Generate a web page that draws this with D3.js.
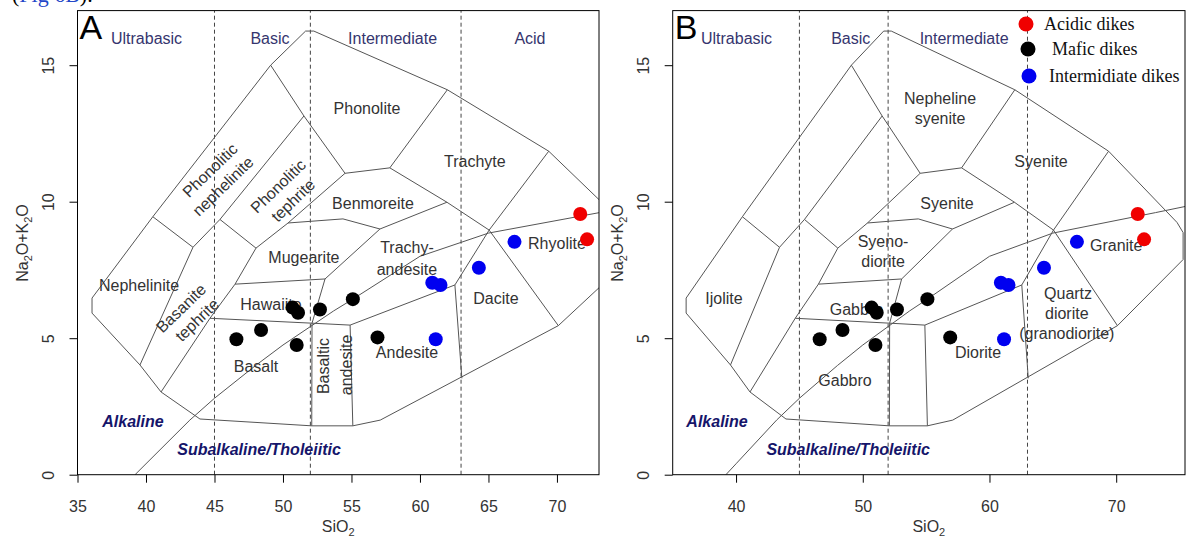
<!DOCTYPE html>
<html>
<head>
<meta charset="utf-8">
<script src="https://cdn.jsdelivr.net/npm/d3@7"></script>
<style>
  body { margin: 0; background: #fff; }
  svg { display: block; font-family: Arial, "Liberation Sans", sans-serif; }
</style>
</head>
<body>
<svg id="chart" width="1186" height="537"></svg>
<script>
// ---- samples (SiO2, Na2O+K2O) ----
var maficDikes = [[46.6, 4.96], [48.4, 5.3], [50.7, 6.12], [51.1, 5.93], [51.0, 4.75], [52.7, 6.05], [55.1, 6.43], [56.9, 5.03]];
var intermediateDikes = [[60.9, 7.03], [61.5, 6.95], [61.15, 4.96], [64.3, 7.58], [66.9, 8.53]];
var acidicDikes = [[71.7, 9.55], [72.2, 8.62]];

// ---- TAS field geometry ----
var outline = [[36.06, 6.47], [40.5, 9.45], [49.1, 15.0], [51.65, 16.25], [52.25, 16.25], [62.0, 14.1],
  [69.4, 11.85], [74.8, 9.24], [75.28, 8.87], [75.28, 7.88], [70.1, 5.46], [57.1, 2.0], [55.1, 1.79],
  [52.1, 1.79], [43.94, 2.04], [41.1, 3.03], [39.56, 4.02], [36.06, 5.92], [36.06, 6.47]];

var boundaries = [
  [[40.5, 9.45], [43.43, 8.33]],
  [[51.53, 13.14], [45.4, 9.35], [43.43, 8.33]],
  [[43.43, 8.33], [39.56, 4.02]],
  [[49.1, 15.0], [51.53, 13.14], [54.53, 11.04]],
  [[45.4, 9.35], [48.03, 8.3]],
  [[54.53, 11.04], [50.37, 9.22], [48.03, 8.3], [46.5, 6.98], [44.67, 5.73], [41.1, 3.03]],
  [[50.37, 9.22], [54.38, 9.37], [57.08, 9.0]],
  [[54.53, 11.04], [57.8, 11.24]],
  [[62.0, 14.1], [57.8, 11.24]],
  [[57.8, 11.24], [61.97, 9.98], [65.05, 8.96]],
  [[57.08, 9.0], [61.97, 9.98]],
  [[57.08, 9.0], [53.07, 7.17]],
  [[46.5, 6.98], [53.07, 7.17]],
  [[53.07, 7.17], [52.12, 5.55]],
  [[44.67, 5.73], [52.12, 5.55], [54.9, 5.48]],
  [[52.12, 5.55], [52.1, 1.79]],
  [[54.9, 5.48], [55.1, 1.79]],
  [[54.9, 5.48], [62.55, 6.95]],
  [[69.4, 11.85], [65.05, 8.96], [62.55, 6.95]],
  [[62.55, 6.95], [63.06, 3.53]],
  [[65.05, 8.96], [70.1, 5.46]]
];

// Irvine & Baragar alkaline / subalkaline divide
var alkalineDivide = [[39.2, 0], [40, 0.4], [43.2, 2], [45, 2.8], [48, 4], [50, 4.75], [53.7, 6],
  [55, 6.4], [60, 8], [65, 8.85], [73.1, 9.6], [75.5, 9.83]];

var silicaClasses = [45, 52, 63];
var classNames = ["Ultrabasic", "Basic", "Intermediate", "Acid"];
var classCentres = [40.04, 49.05, 58.0, 68.03];

var yTicks = [0, 5, 10, 15];
var xTicksA = [35, 40, 45, 50, 55, 60, 65, 70];
var xTicksB = [40, 50, 60, 70];

// volcanic names (A) and plutonic names (B), one entry per text line
var labelsA = [
  {t: "Phonolitic", x: 44.67, y: 11.15, r: -44},
  {t: "nephelinite", x: 45.62, y: 10.57, r: -44},
  {t: "Phonolitic", x: 49.64, y: 10.57, r: -44},
  {t: "tephrite", x: 50.73, y: 10.05, r: -44},
  {t: "Phonolite", x: 56.13, y: 13.43},
  {t: "Trachyte", x: 64.01, y: 11.48},
  {t: "Benmoreite", x: 56.57, y: 9.95},
  {t: "Mugearite", x: 51.53, y: 7.97},
  {t: "Trachy-", x: 59.05, y: 8.34},
  {t: "andesite", x: 59.05, y: 7.53},
  {t: "Rhyolite", x: 70.0, y: 8.49},
  {t: "Dacite", x: 65.55, y: 6.47},
  {t: "Andesite", x: 59.05, y: 4.49},
  {t: "Basaltic", x: 52.92, y: 3.98, r: -90},
  {t: "andesite", x: 54.6, y: 4.02, r: -90},
  {t: "Basalt", x: 48.03, y: 3.95},
  {t: "Hawaiite", x: 49.12, y: 6.25},
  {t: "Basanite", x: 42.55, y: 6.1, r: -44},
  {t: "tephrite", x: 43.72, y: 5.67, r: -44},
  {t: "Nephelinite", x: 39.49, y: 6.95}
];
var labelsB = [
  {t: "Nepheline", x: 56.1, y: 13.8},
  {t: "syenite", x: 56.1, y: 13.06},
  {t: "Syenite", x: 64.07, y: 11.48},
  {t: "Syenite", x: 56.65, y: 9.95},
  {t: "Syeno-", x: 51.6, y: 8.56},
  {t: "diorite", x: 51.6, y: 7.8},
  {t: "Granite", x: 70.0, y: 8.41},
  {t: "Quartz", x: 66.2, y: 6.64},
  {t: "diorite", x: 66.1, y: 5.9},
  {t: "(granodiorite)", x: 66.1, y: 5.16},
  {t: "Diorite", x: 59.1, y: 4.49},
  {t: "Gabbro", x: 48.6, y: 3.47},
  {t: "Gabbro", x: 49.5, y: 6.06},
  {t: "Ijolite", x: 39.05, y: 6.47}
];

var legendNames = ["Acidic dikes", "Mafic dikes", "Intermidiate dikes"];
var legendColors = ["#f00000", "#000", "#0000f0"];

var svg = d3.select("#chart");

// cut-off caption line from the page above the figure
var cap = svg.append("text").attr("x", 12).attr("y", 2)
  .style("font-family", "'Liberation Serif', serif").style("font-size", "22px");
cap.append("tspan").text("(");
cap.append("tspan").attr("fill", "#2346c8").text("Fig 6B");
cap.append("tspan").text(").");

function chemLabel(sel, parts) {
  parts.forEach(function(p) {
    if (p.sub) sel.append("tspan").attr("dy", 4).style("font-size", "11px").text(p.sub);
    else sel.append("tspan").attr("dy", p.up ? -4 : 0).text(p.t);
  });
}

function drawPanel(o) {
  var x = d3.scaleLinear().domain(o.xDomain).range([o.left, o.right]);
  var y = d3.scaleLinear().domain([0, 17]).range([474.7, 10.6]);
  var line = d3.line().x(function(d) { return x(d[0]); }).y(function(d) { return y(d[1]); });

  var g = svg.append("g");
  g.append("clipPath").attr("id", o.id + "-clip")
    .append("rect").attr("x", o.left).attr("y", y(17)).attr("width", o.right - o.left).attr("height", y(0) - y(17));
  var plot = g.append("g").attr("clip-path", "url(#" + o.id + "-clip)");

  plot.selectAll("line.class").data(silicaClasses).enter().append("line")
    .attr("x1", function(d) { return x(d); }).attr("x2", function(d) { return x(d); })
    .attr("y1", y(0)).attr("y2", y(17))
    .attr("stroke", "#444").attr("stroke-width", 1).attr("stroke-dasharray", "4,3");

  plot.append("path").datum(outline).attr("d", line)
    .attr("fill", "none").attr("stroke", "#555").attr("stroke-width", 1);
  plot.selectAll("path.field").data(boundaries).enter().append("path")
    .attr("class", "field").attr("d", line)
    .attr("fill", "none").attr("stroke", "#555").attr("stroke-width", 1);
  plot.append("path").datum(alkalineDivide).attr("d", line)
    .attr("fill", "none").attr("stroke", "#555").attr("stroke-width", 1);

  // silica classes across the top
  plot.selectAll("text.cls").data(o.classes).enter().append("text")
    .attr("x", function(d, i) { return x(classCentres[i]); }).attr("y", y(16.0))
    .attr("dy", "0.35em").attr("text-anchor", "middle")
    .attr("fill", "#35356e").style("font-size", "16px").text(function(d) { return d; });

  plot.selectAll("text.field").data(o.labels).enter().append("text")
    .attr("text-anchor", "middle").attr("dy", "0.35em")
    .attr("transform", function(d) {
      return "translate(" + x(d.x) + "," + y(d.y) + ")" + (d.r ? " rotate(" + d.r + ")" : "");
    })
    .attr("fill", "#333").style("font-size", "16px").text(function(d) { return d.t; });

  plot.append("text").attr("x", x(o.alkPos[0])).attr("y", y(o.alkPos[1])).attr("dy", "0.35em")
    .attr("text-anchor", "middle").attr("fill", "#15156a")
    .style("font-size", "16px").style("font-weight", "bold").style("font-style", "italic").text("Alkaline");
  plot.append("text").attr("x", x(o.subPos[0])).attr("y", y(o.subPos[1])).attr("dy", "0.35em")
    .attr("text-anchor", "middle").attr("fill", "#15156a")
    .style("font-size", "16px").style("font-weight", "bold").style("font-style", "italic")
    .text("Subalkaline/Tholeiitic");

  [[maficDikes, "#000"], [intermediateDikes, "#0000f0"], [acidicDikes, "#f00000"]].forEach(function(s) {
    plot.selectAll(null).data(s[0]).enter().append("circle")
      .attr("cx", function(d) { return x(d[0]); }).attr("cy", function(d) { return y(d[1]); })
      .attr("r", 7).attr("fill", s[1]);
  });

  // axes, R style
  var xAxis = g.append("g").attr("transform", "translate(0," + y(0) + ")")
    .call(d3.axisBottom(x).tickValues(o.xTicks).tickSize(8).tickFormat(d3.format("d")));
  xAxis.select(".domain").remove();
  xAxis.selectAll("text").attr("y", 37).attr("dy", 0).attr("fill", "#333").style("font-size", "16px");

  var yAxis = g.append("g").attr("transform", "translate(" + o.left + ",0)")
    .call(d3.axisLeft(y).tickValues(yTicks).tickSize(8));
  yAxis.select(".domain").remove();
  yAxis.selectAll("text").attr("transform", "rotate(-90)").attr("x", 0).attr("y", -24).attr("dy", 0)
    .attr("text-anchor", "middle").attr("fill", "#333").style("font-size", "16px");

  g.append("rect").attr("x", o.left).attr("y", y(17)).attr("width", o.right - o.left).attr("height", y(0) - y(17))
    .attr("fill", "none").attr("stroke", "#000").attr("stroke-width", 1);

  var xt = g.append("text").attr("x", (o.left + o.right) / 2).attr("y", 532)
    .attr("text-anchor", "middle").attr("fill", "#333").style("font-size", "16px");
  chemLabel(xt, [{t: "SiO"}, {sub: "2"}]);
  var yt = g.append("text").attr("transform", "translate(" + (o.left - 50) + "," + 243 + ") rotate(-90)")
    .attr("text-anchor", "middle").attr("fill", "#333").style("font-size", "16px");
  chemLabel(yt, [{t: "Na"}, {sub: "2"}, {t: "O+K", up: true}, {sub: "2"}, {t: "O", up: true}]);

  g.append("text").attr("x", o.left + 2).attr("y", 39).attr("fill", "#000")
    .style("font-size", "34px").text(o.letter);
  return g;
}

drawPanel({id: "A", letter: "A", xDomain: [35, 73.07], left: 77.5, right: 599, xTicks: xTicksA,
  classes: classNames, labels: labelsA, alkPos: [39.05, 1.97], subPos: [48.25, 0.94]});
var gB = drawPanel({id: "B", letter: "B", xDomain: [35, 75.43], left: 672.7, right: 1185, xTicks: xTicksB,
  classes: classNames.slice(0, 3), labels: labelsB, alkPos: [38.5, 1.97], subPos: [48.85, 0.94]});

// legend (panel B)
var lg = gB.append("g");
var legendDotX = [1026, 1028, 1029], legendTextX = [1044, 1052, 1049], legendY = [24, 49, 76];
legendNames.forEach(function(name, i) {
  lg.append("circle").attr("cx", legendDotX[i]).attr("cy", legendY[i]).attr("r", 7.5).attr("fill", legendColors[i]);
  lg.append("text").attr("x", legendTextX[i]).attr("y", legendY[i] + 5.5)
    .style("font-family", "'Liberation Serif', 'Times New Roman', serif").style("font-size", "18px")
    .attr("fill", "#111").text(name);
});
</script>
</body>
</html>
